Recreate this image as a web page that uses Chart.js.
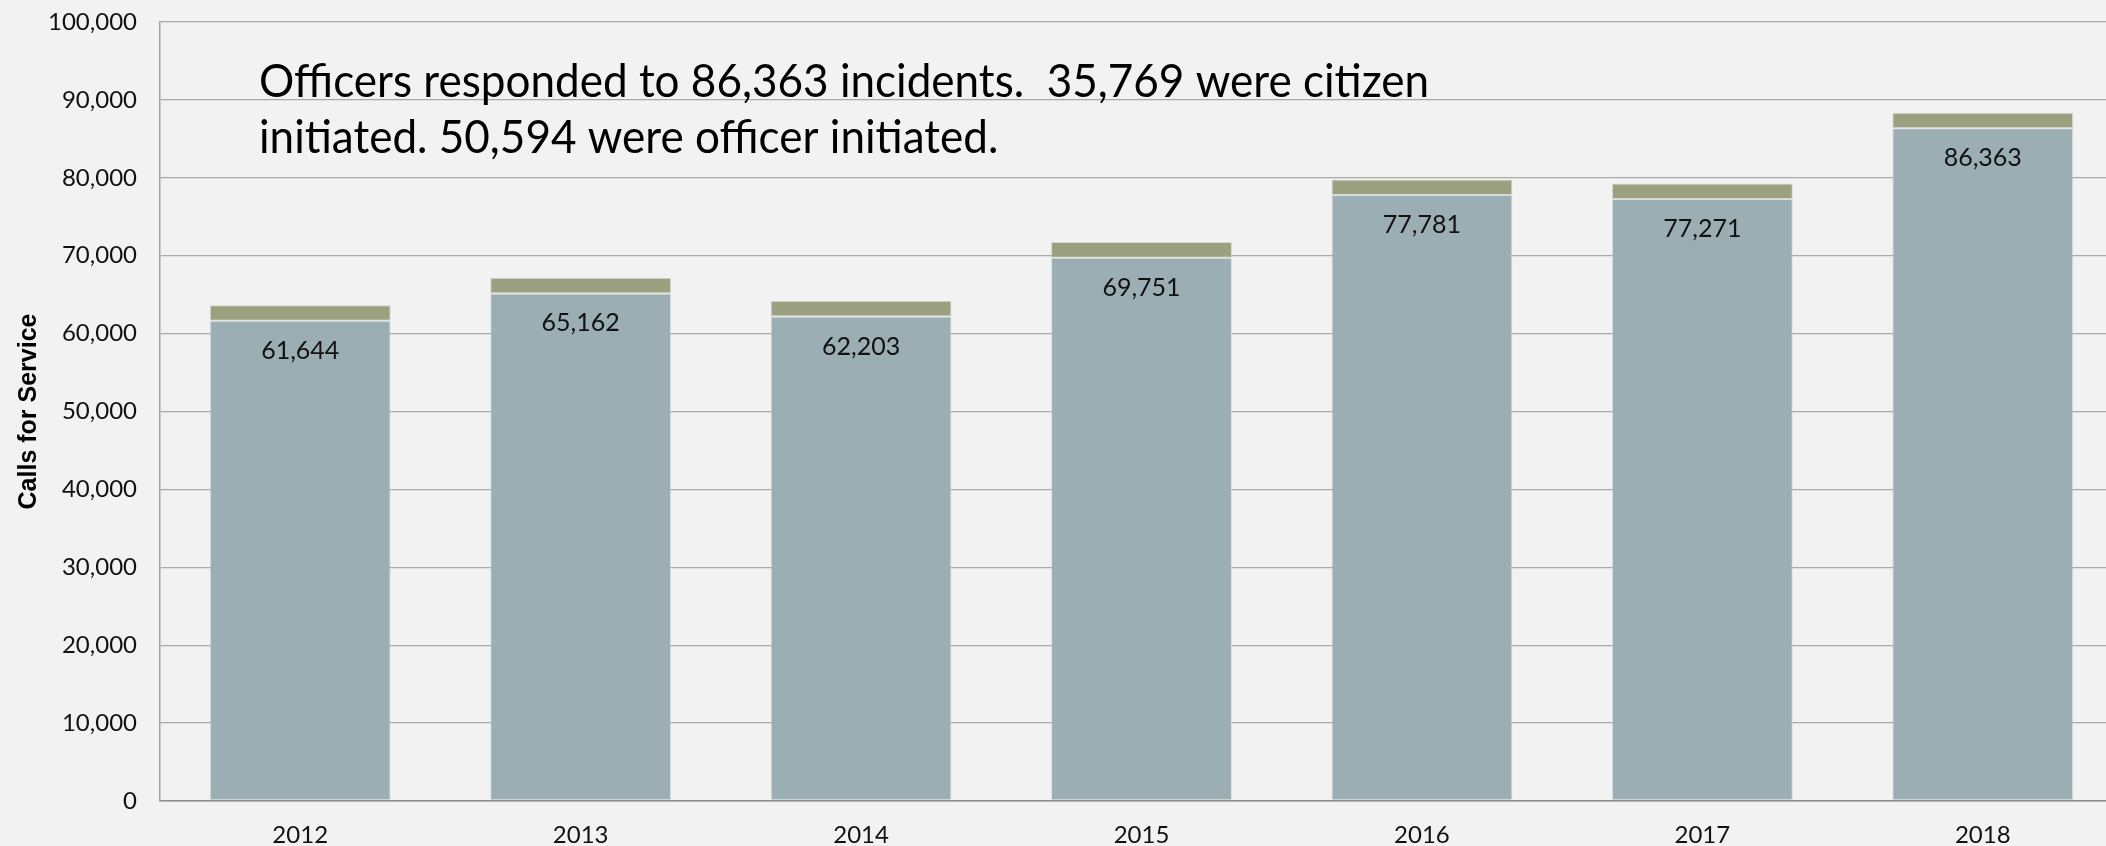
<!DOCTYPE html>
<html>
<head>
<meta charset="utf-8">
<script src="https://cdn.jsdelivr.net/npm/chart.js@4.4.1/dist/chart.umd.min.js"></script>
<style>
  html, body { margin: 0; padding: 0; overflow: hidden; background: #f2f2f2; }
  #wrap { position: relative; width: 2123px; height: 846px; }
</style>
</head>
<body>
<div id="wrap"><canvas id="c"></canvas></div>
<script>
// ---- data ----
const years = ['2012', '2013', '2014', '2015', '2016', '2017', '2018'];
const totalCalls = [61644, 65162, 62203, 69751, 77781, 77271, 86363];
const topSegment = [2000, 2000, 2000, 2000, 2000, 2000, 2000];
const yTicksMax = 100000;
const yTicksStep = 10000;
const yAxisTitle = 'Calls for Service';
const noteLines = [
  'Officers responded to 86,363 incidents.  35,769 were citizen',
  'initiated. 50,594 were officer initiated.'
];

const fmt = v => Number(v).toLocaleString('en-US');
const TXT = 'Lato, "Open Sans", sans-serif';

const overlay = {
  id: 'overlay',
  afterDatasetsDraw(chart) {
    const ctx = chart.ctx;
    const meta = chart.getDatasetMeta(0);
    ctx.save();
    ctx.fillStyle = '#111';
    ctx.font = '25px ' + TXT;
    ctx.textAlign = 'center';
    ctx.textBaseline = 'middle';
    meta.data.forEach((bar, i) => {
      ctx.fillText(fmt(totalCalls[i]), bar.x, bar.y + 30);
    });
    // annotation text
    ctx.textAlign = 'left';
    ctx.textBaseline = 'alphabetic';
    ctx.font = '47px ' + TXT;
    const w = ctx.measureText(noteLines[0]).width;
    const sx = 1170 / w;
    ctx.fillStyle = '#000';
    ctx.translate(259, 0);
    ctx.scale(sx, 1);
    ctx.fillText(noteLines[0], 0, 97);
    ctx.fillText(noteLines[1], 0, 153);
    ctx.restore();
  }
};

new Chart(document.getElementById('c'), {
  type: 'bar',
  data: {
    labels: years,
    datasets: [
      {
        data: totalCalls,
        backgroundColor: '#9baeb4',
        borderColor: 'rgba(200,210,210,0.6)',
        borderWidth: 1,
        borderSkipped: false,
        barPercentage: 0.645,
        categoryPercentage: 1.0
      },
      {
        data: topSegment,
        backgroundColor: '#9ba180',
        borderColor: 'rgba(195,200,180,0.6)',
        borderWidth: 1,
        borderSkipped: false,
        barPercentage: 0.645,
        categoryPercentage: 1.0
      }
    ]
  },
  options: {
    responsive: true,
    maintainAspectRatio: false,
    animation: false,
    layout: { padding: { top: 22, right: 0, bottom: 0, left: 0 } },
    plugins: {
      legend: { display: false },
      tooltip: { enabled: false },
      title: { display: false }
    },
    scales: {
      x: {
        stacked: true,
        grid: { display: false, drawTicks: false },
        border: { display: true, color: '#8c8c8c', width: 1.5 },
        ticks: {
          color: '#111',
          font: { family: TXT, size: 24 },
          padding: 20,
          maxRotation: 0
        },
        afterFit(scale) { scale.height = 45; scale.paddingLeft = 0; scale.paddingRight = 0; }
      },
      y: {
        stacked: true,
        min: 0,
        max: yTicksMax,
        grid: { color: '#a9a9a9', lineWidth: 1.3, drawTicks: false },
        border: { display: true, color: '#a0a0a0', width: 1.5 },
        ticks: {
          stepSize: yTicksStep,
          color: '#111',
          font: { family: TXT, size: 24 },
          padding: 23,
          callback: v => fmt(v)
        },
        title: {
          display: true,
          text: yAxisTitle,
          color: '#000',
          font: { family: '"Liberation Sans", Arial, sans-serif', size: 25, weight: 'bold' },
          padding: { top: 14, bottom: 0 }
        },
        afterFit(scale) { scale.width = 160; scale.paddingTop = 0; scale.paddingBottom = 0; }
      }
    }
  },
  plugins: [overlay]
});
</script>
</body>
</html>
